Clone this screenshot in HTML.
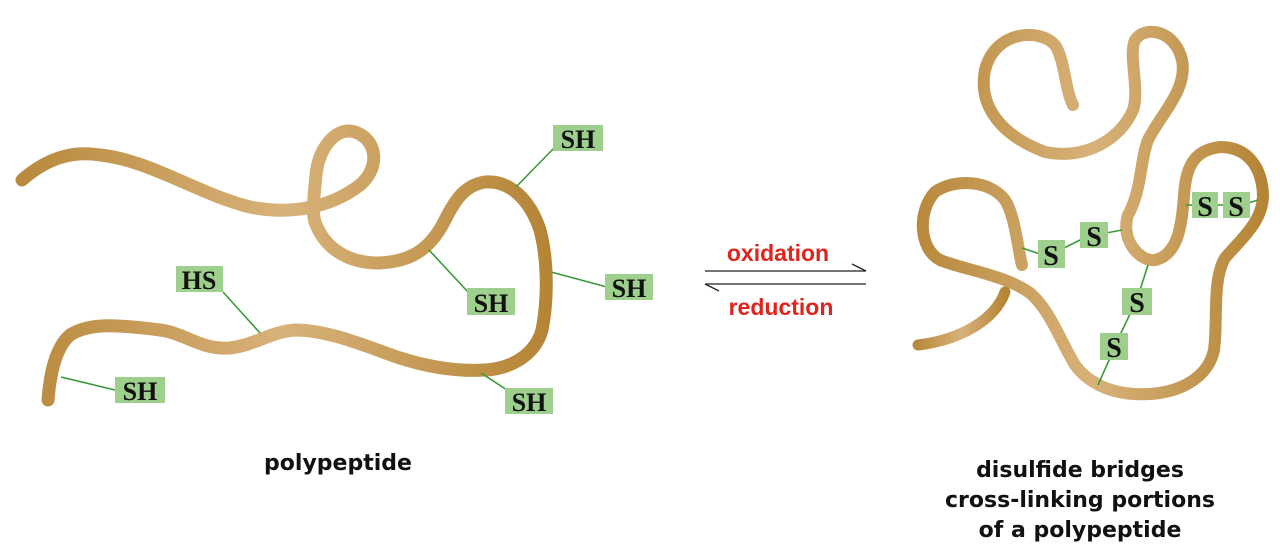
<!DOCTYPE html>
<html><head><meta charset="utf-8"><style>
html,body{margin:0;padding:0;background:#fff;}
body{width:1280px;height:544px;overflow:hidden;position:relative;}
svg{position:absolute;left:0;top:0;}
</style></head><body>
<svg width="1280" height="544" viewBox="0 0 1280 544" xmlns="http://www.w3.org/2000/svg">
<defs>
<linearGradient id="g1" x1="0" y1="0" x2="1" y2="0">
<stop offset="0" stop-color="#b98a3e"/><stop offset="0.5" stop-color="#d8b27a"/><stop offset="1" stop-color="#b58536"/>
</linearGradient>
</defs>
<g fill="none" stroke-linecap="round" stroke-linejoin="round">
<path d="M22,180 C45,160 70,150 100,155 C150,160 200,195 250,207 C290,215 330,208 360,185 C380,168 378,140 355,132 C335,126 318,150 316,175 C314,195 312,213 315,222 C325,250 350,263 378,263 C410,262 430,250 445,220 C455,200 465,185 485,182 C510,180 530,200 540,230 C548,260 548,300 542,330 C536,352 515,368 486,370 C455,372 425,366 400,358 C370,348 330,330 295,330 C270,332 255,345 230,348 C200,350 185,333 160,330 C120,325 90,322 70,335 C55,348 50,375 48,400" stroke="url(#g1)" stroke-width="13"/>
<path d="M1073,105 C1065,90 1065,60 1055,45 C1040,28 995,30 985,70 C978,105 1000,135 1045,152 C1085,160 1120,140 1133,110 C1140,90 1128,55 1135,40 C1145,25 1175,30 1182,60 C1188,90 1160,115 1148,140 C1140,160 1142,190 1128,215 C1120,240 1140,262 1155,260 C1178,255 1182,225 1184,195 C1186,165 1195,150 1220,147 C1250,147 1262,170 1263,195 C1263,222 1240,240 1225,258 C1212,280 1218,320 1214,350 C1208,378 1180,392 1150,394 C1115,396 1090,385 1075,365 C1060,340 1050,310 1030,293 C1005,275 965,270 940,260 C918,248 918,210 935,192 C955,178 990,180 1005,200 C1015,215 1018,250 1022,265" stroke="url(#g1)" stroke-width="12"/>
<path d="M1005,292 C995,320 960,340 918,345" stroke="url(#g1)" stroke-width="11"/>
</g>
<g stroke="#3a9a3a" stroke-width="1.6">
<line x1="516" y1="187" x2="555" y2="147"/>
<line x1="551" y1="272" x2="607" y2="287"/>
<line x1="429" y1="250" x2="468" y2="292"/>
<line x1="260" y1="333" x2="223" y2="292"/>
<line x1="61" y1="377" x2="115" y2="390"/>
<line x1="481" y1="373" x2="507" y2="390"/>
<line x1="1022" y1="248" x2="1040" y2="254"/>
<line x1="1062" y1="249" x2="1082" y2="239"/>
<line x1="1106" y1="233" x2="1122" y2="230"/>
<line x1="1186" y1="205" x2="1194" y2="205"/>
<line x1="1216" y1="205" x2="1224" y2="205"/>
<line x1="1248" y1="203" x2="1258" y2="200"/>
<line x1="1148" y1="265" x2="1140" y2="290"/>
<line x1="1130" y1="314" x2="1120" y2="335"/>
<line x1="1110" y1="358" x2="1098" y2="385"/>
</g>
<g fill="#9fcf8c">
<rect x="553" y="125" width="50" height="26"/>
<rect x="605" y="274" width="48" height="26"/>
<rect x="467" y="288" width="48" height="27"/>
<rect x="176" y="266" width="47" height="26"/>
<rect x="115" y="377" width="50" height="26"/>
<rect x="505" y="388" width="48" height="26"/>
<rect x="1038" y="240" width="27" height="28"/>
<rect x="1080" y="222" width="28" height="26"/>
<rect x="1192" y="192" width="26" height="26"/>
<rect x="1223" y="192" width="27" height="26"/>
<rect x="1122" y="288" width="30" height="27"/>
<rect x="1100" y="333" width="28" height="27"/>
</g>
<g font-family="Liberation Serif, serif" font-size="26" font-weight="bold" fill="#111" text-anchor="middle">
<text x="578" y="148">SH</text>
<text x="629" y="297">SH</text>
<text x="491" y="312">SH</text>
<text x="199" y="289">HS</text>
<text x="140" y="400">SH</text>
<text x="529" y="411">SH</text>
<text x="1051" y="265" font-size="28">S</text>
<text x="1094" y="246" font-size="28">S</text>
<text x="1205" y="216" font-size="28">S</text>
<text x="1236" y="216" font-size="28">S</text>
<text x="1137" y="312" font-size="28">S</text>
<text x="1114" y="357" font-size="28">S</text>
</g>
<g stroke="#222" stroke-width="1.3" fill="none">
<line x1="705" y1="271" x2="866" y2="271"/>
<path d="M866,271 L852,264"/>
<line x1="705" y1="284" x2="866" y2="284"/>
<path d="M705,284 L719,291"/>
</g>
<g font-family="Liberation Sans, sans-serif" font-size="23" font-weight="bold" fill="#e0231c" text-anchor="middle">
<text x="778" y="261">oxidation</text>
<text x="781" y="315">reduction</text>
</g>
<g font-family="DejaVu Sans, Liberation Sans, sans-serif" font-size="22" font-weight="bold" fill="#111" text-anchor="middle">
<text x="338" y="470">polypeptide</text>
<text x="1080" y="477">disulfide bridges</text>
<text x="1080" y="507">cross-linking portions</text>
<text x="1080" y="537">of a polypeptide</text>
</g>
</svg>
</body></html>
